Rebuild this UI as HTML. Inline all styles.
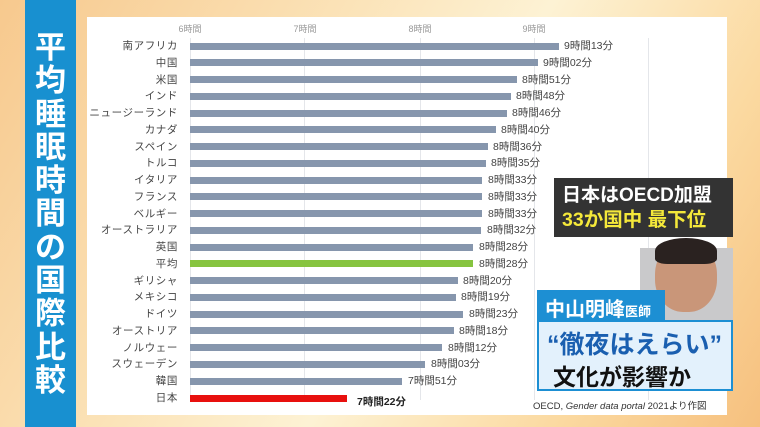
<!DOCTYPE html>
<html><head><meta charset="utf-8"><style>
*{margin:0;padding:0;box-sizing:border-box}
html,body{width:760px;height:427px;overflow:hidden}
body{position:relative;font-family:"Liberation Sans","Noto Sans CJK JP",sans-serif;
background:linear-gradient(120deg,#f7c98e 0%,#fbe3b8 35%,#fdf2d4 55%,#fbd9a0 80%,#f6c07e 100%)}
.panel{position:absolute;left:25px;top:0;width:51px;height:427px;background:#1890d0}
.panel .t{position:absolute;left:0;top:28px;width:51px;text-align:center;color:#fff;font-weight:bold;font-size:31px;line-height:33.3px;font-family:"Noto Sans CJK JP",sans-serif}
.chart{position:absolute;left:87px;top:17px;width:640px;height:398px;background:#fff}
.g{position:absolute;top:38px;width:1px;height:362px;background:#e4e6ea}
.ax{position:absolute;top:22px;font-size:9px;color:#999;transform:translateX(-50%)}
.l{position:absolute;right:582px;font-size:10.5px;color:#444;height:16px;line-height:16px;white-space:nowrap;letter-spacing:0.6px}
.b{position:absolute;left:190px;height:7px;background:#8696ad}
.v{position:absolute;font-size:10.5px;color:#444;height:16px;line-height:16px;white-space:nowrap}
</style></head><body>
<div class="panel"><div class="t">平<br>均<br>睡<br>眠<br>時<br>間<br>の<br>国<br>際<br>比<br>較</div></div>
<div class="chart"></div>
<div class="g" style="left:190px"></div><div class="g" style="left:304px"></div><div class="g" style="left:420px"></div><div class="g" style="left:534px"></div><div class="g" style="left:648px"></div>
<div class="ax" style="left:190px">6時間</div><div class="ax" style="left:305px">7時間</div><div class="ax" style="left:420px">8時間</div><div class="ax" style="left:534px">9時間</div>

<div class="l" style="top:38px">南アフリカ</div><div class="b" style="top:42.5px;width:369px"></div><div class="v" style="top:38px;left:564px">9時間13分</div>
<div class="l" style="top:55px">中国</div><div class="b" style="top:59.3px;width:348px"></div><div class="v" style="top:55px;left:543px">9時間02分</div>
<div class="l" style="top:71.5px">米国</div><div class="b" style="top:76px;width:327px"></div><div class="v" style="top:71.5px;left:522px">8時間51分</div>
<div class="l" style="top:88.3px">インド</div><div class="b" style="top:92.8px;width:321px"></div><div class="v" style="top:88.3px;left:516px">8時間48分</div>
<div class="l" style="top:105px">ニュージーランド</div><div class="b" style="top:109.5px;width:317px"></div><div class="v" style="top:105px;left:512px">8時間46分</div>
<div class="l" style="top:121.8px">カナダ</div><div class="b" style="top:126.3px;width:306px"></div><div class="v" style="top:121.8px;left:501px">8時間40分</div>
<div class="l" style="top:138.6px">スペイン</div><div class="b" style="top:143.1px;width:298px"></div><div class="v" style="top:138.6px;left:493px">8時間36分</div>
<div class="l" style="top:155.3px">トルコ</div><div class="b" style="top:159.8px;width:296px"></div><div class="v" style="top:155.3px;left:491px">8時間35分</div>
<div class="l" style="top:172.1px">イタリア</div><div class="b" style="top:176.6px;width:292px"></div><div class="v" style="top:172.1px;left:488px">8時間33分</div>
<div class="l" style="top:188.8px">フランス</div><div class="b" style="top:193.3px;width:292px"></div><div class="v" style="top:188.8px;left:488px">8時間33分</div>
<div class="l" style="top:205.6px">ベルギー</div><div class="b" style="top:210.1px;width:292px"></div><div class="v" style="top:205.6px;left:488px">8時間33分</div>
<div class="l" style="top:222.4px">オーストラリア</div><div class="b" style="top:226.9px;width:291px"></div><div class="v" style="top:222.4px;left:487px">8時間32分</div>
<div class="l" style="top:239.1px">英国</div><div class="b" style="top:243.6px;width:283px"></div><div class="v" style="top:239.1px;left:479px">8時間28分</div>
<div class="l" style="top:255.9px">平均</div><div class="b" style="top:260.4px;width:283px;background:#86c440"></div><div class="v" style="top:255.9px;left:479px">8時間28分</div>
<div class="l" style="top:272.6px">ギリシャ</div><div class="b" style="top:277.1px;width:268px"></div><div class="v" style="top:272.6px;left:463px">8時間20分</div>
<div class="l" style="top:289.4px">メキシコ</div><div class="b" style="top:293.9px;width:266px"></div><div class="v" style="top:289.4px;left:461px">8時間19分</div>
<div class="l" style="top:306.2px">ドイツ</div><div class="b" style="top:310.7px;width:273px"></div><div class="v" style="top:306.2px;left:469px">8時間23分</div>
<div class="l" style="top:322.9px">オーストリア</div><div class="b" style="top:327.4px;width:264px"></div><div class="v" style="top:322.9px;left:459px">8時間18分</div>
<div class="l" style="top:339.7px">ノルウェー</div><div class="b" style="top:344.2px;width:252px"></div><div class="v" style="top:339.7px;left:448px">8時間12分</div>
<div class="l" style="top:356.4px">スウェーデン</div><div class="b" style="top:360.9px;width:235px"></div><div class="v" style="top:356.4px;left:431px">8時間03分</div>
<div class="l" style="top:373.2px">韓国</div><div class="b" style="top:377.7px;width:212px"></div><div class="v" style="top:373.2px;left:408px">7時間51分</div>
<div class="l" style="top:390px">日本</div><div class="b" style="top:394.5px;width:157px;background:#e8100e"></div><div class="v" style="top:394px;left:357px;font-weight:bold;color:#222">7時間22分</div>

<div style="position:absolute;left:554px;top:178px;width:179px;height:59px;background:#333;color:#fff;font-weight:bold;font-size:19px;line-height:25px;padding:5px 0 0 8px;white-space:nowrap">日本はOECD加盟<br><span style="color:#f4e83a;font-size:19.5px">33か国中 最下位</span></div>

<div style="position:absolute;left:640px;top:248px;width:93px;height:80px;background:#c9c9cb"></div>
<div style="position:absolute;left:655px;top:240px;width:62px;height:72px;border-radius:48% 48% 45% 45%;background:#c99679"></div>
<div style="position:absolute;left:655px;top:238px;width:62px;height:26px;border-radius:50% 50% 20% 20%;background:#2a2220"></div>

<div style="position:absolute;left:537px;top:290px;width:128px;height:32px;background:#1d8fd3"></div>
<div style="position:absolute;left:545px;top:293px;color:#fff;font-weight:bold;font-size:20px;white-space:nowrap">中山明峰<span style="font-size:13px">医師</span></div>
<div style="position:absolute;left:537px;top:320px;width:196px;height:71px;background:#e3f1fc;border:2px solid #1d8fd3"></div>
<div style="position:absolute;left:547px;top:325px;color:#1a5fb0;font-weight:bold;font-size:25px;white-space:nowrap">“徹夜はえらい”</div>
<div style="position:absolute;left:553px;top:358px;color:#111;font-weight:bold;font-size:23px;white-space:nowrap">文化が影響か</div>
<div style="position:absolute;left:533px;top:398px;font-size:9.5px;color:#333;white-space:nowrap">OECD, <i>Gender data portal</i> 2021より作図</div>
</body></html>
